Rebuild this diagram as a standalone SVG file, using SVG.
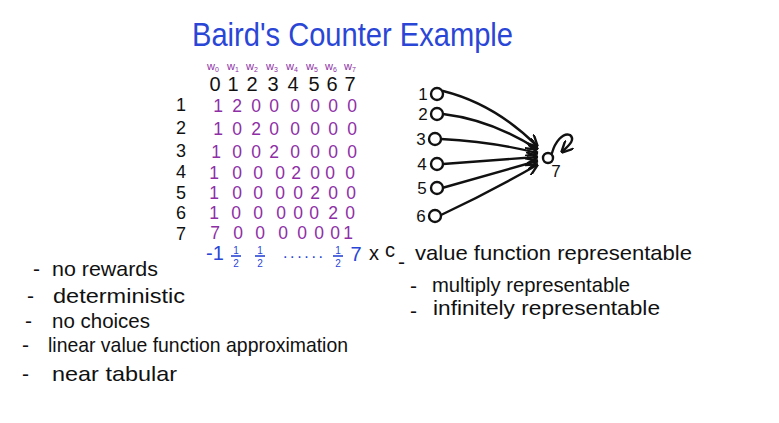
<svg xmlns="http://www.w3.org/2000/svg" width="779" height="423" viewBox="0 0 779 423">
<defs>
<style>
text{font-family:"Liberation Sans","DejaVu Sans",sans-serif;}
.blue{fill:#2a46d6;}
.purple{fill:#8e2fa6;}
.blk{fill:#111;}
.m{font-size:20px;text-anchor:middle;}
.p{font-size:17.5px;}
.rl{font-size:18px;}
.w{font-size:11px;text-anchor:middle;fill:#8e2fa6;}
.lst{font-size:21px;fill:#111;}
.nl{font-size:17px;fill:#111;text-anchor:middle;}
.node{fill:#fff;stroke:#111;stroke-width:2.4;}
.edge{fill:none;stroke:#111;stroke-width:2.4;stroke-linecap:round;}
.fr{stroke:#2a46d6;stroke-width:1.6;}
.fn{font-size:10px;text-anchor:middle;fill:#2a46d6;}
</style>
<marker id="ah" viewBox="0 0 10 10" refX="9" refY="5" markerWidth="5" markerHeight="5" orient="auto" markerUnits="strokeWidth">
<path d="M0,0 L10,5 L0,10" fill="none" stroke="#111" stroke-width="2"/>
</marker>
</defs>
<rect width="779" height="423" fill="#fff"/>

<text class="blue" x="192" y="46" font-size="34" textLength="321" lengthAdjust="spacingAndGlyphs">Baird's Counter Example</text>

<g id="weights">
<text class="w" x="213" y="70">w<tspan font-size="7" dy="2">0</tspan></text>
<text class="w" x="233" y="70">w<tspan font-size="7" dy="2">1</tspan></text>
<text class="w" x="252" y="70">w<tspan font-size="7" dy="2">2</tspan></text>
<text class="w" x="272" y="70">w<tspan font-size="7" dy="2">3</tspan></text>
<text class="w" x="292" y="70">w<tspan font-size="7" dy="2">4</tspan></text>
<text class="w" x="312" y="70">w<tspan font-size="7" dy="2">5</tspan></text>
<text class="w" x="331" y="70">w<tspan font-size="7" dy="2">6</tspan></text>
<text class="w" x="350" y="70">w<tspan font-size="7" dy="2">7</tspan></text>
</g>

<g id="matrix">
<g class="blk m">
<text x="215" y="91">0</text><text x="233" y="91">1</text><text x="252" y="91">2</text><text x="273" y="91">3</text>
<text x="293" y="91">4</text><text x="314" y="91">5</text><text x="332" y="91">6</text><text x="350" y="91">7</text>
</g>
<g class="blk m rl">
<text x="181" y="111">1</text><text x="181" y="134">2</text><text x="181" y="157">3</text><text x="181" y="178">4</text>
<text x="181" y="199">5</text><text x="181" y="219">6</text><text x="181" y="240">7</text>
</g>
<g class="purple m p">
<text x="218" y="112">1</text><text x="237" y="112">2</text><text x="256" y="112">0</text><text x="274" y="112">0</text><text x="295" y="112">0</text><text x="315" y="112">0</text><text x="333" y="112">0</text><text x="352" y="112">0</text>
<text x="218" y="135">1</text><text x="237" y="135">0</text><text x="256" y="135">2</text><text x="274" y="135">0</text><text x="295" y="135">0</text><text x="315" y="135">0</text><text x="333" y="135">0</text><text x="352" y="135">0</text>
<text x="216" y="158">1</text><text x="237" y="158">0</text><text x="256" y="158">0</text><text x="274" y="158">2</text><text x="295" y="158">0</text><text x="315" y="158">0</text><text x="333" y="158">0</text><text x="352" y="158">0</text>
<text x="214" y="179">1</text><text x="237" y="179">0</text><text x="258" y="179">0</text><text x="280" y="179">0</text><text x="296" y="179">2</text><text x="315" y="179">0</text><text x="330" y="179">0</text><text x="350" y="179">0</text>
<text x="214" y="199">1</text><text x="237" y="199">0</text><text x="258" y="199">0</text><text x="280" y="199">0</text><text x="298" y="199">0</text><text x="315" y="199">2</text><text x="333" y="199">0</text><text x="351" y="199">0</text>
<text x="214" y="219">1</text><text x="236" y="219">0</text><text x="258" y="219">0</text><text x="281" y="219">0</text><text x="298" y="219">0</text><text x="314" y="219">0</text><text x="333" y="219">2</text><text x="350" y="219">0</text>
<text x="215" y="239">7</text><text x="238" y="239">0</text><text x="260" y="239">0</text><text x="283" y="239">0</text><text x="302" y="239">0</text><text x="319" y="239">0</text><text x="335" y="239">0</text><text x="348" y="239">1</text>
</g>
<g id="result">
<text class="blue m" x="215" y="260" font-size="16">-1</text>
<text class="fn" x="236" y="254">1</text><line class="fr" x1="231" y1="256" x2="241" y2="256"/><text class="fn" x="236" y="267">2</text>
<text class="fn" x="260" y="254">1</text><line class="fr" x1="255" y1="256" x2="265" y2="256"/><text class="fn" x="260" y="267">2</text>
<text class="blue" x="283" y="258" font-size="16" textLength="40" lengthAdjust="spacing">......</text>
<text class="fn" x="338" y="254">1</text><line class="fr" x1="333" y1="256" x2="343" y2="256"/><text class="fn" x="338" y="267">2</text>
<text class="blue m" x="356" y="261">7</text>
<text class="blk m" x="374" y="260" font-size="18">x</text>
<text class="blk m" x="390" y="257" font-size="20">c</text>
</g>
</g>

<g id="connectors">
<path class="edge" marker-end="url(#ah)" d="M443,91 Q495,104 537,146"/>
<path class="edge" marker-end="url(#ah)" d="M443,114 Q492,120 537,149"/>
<path class="edge" marker-end="url(#ah)" d="M441,139 Q495,142 537,153"/>
<path class="edge" marker-end="url(#ah)" d="M443,164 Q495,160 537,157"/>
<path class="edge" marker-end="url(#ah)" d="M442,188 Q495,173 537,161"/>
<path class="edge" marker-end="url(#ah)" d="M441,215 Q490,192 537,165"/>
<path class="edge" marker-end="url(#ah)" d="M552,153 C555,142 563,132 570,135 C576,140 568,146 562,152"/>
</g>

<g id="node1"><circle class="node" cx="437" cy="94" r="6"/><text class="nl" x="423" y="100">1</text></g>
<g id="node2"><circle class="node" cx="437" cy="114" r="6"/><text class="nl" x="423" y="120">2</text></g>
<g id="node3"><circle class="node" cx="435" cy="139" r="6"/><text class="nl" x="421" y="145">3</text></g>
<g id="node4"><circle class="node" cx="437" cy="164" r="6"/><text class="nl" x="422" y="170">4</text></g>
<g id="node5"><circle class="node" cx="437" cy="188" r="6"/><text class="nl" x="422" y="194">5</text></g>
<g id="node6"><circle class="node" cx="435" cy="216" r="6"/><text class="nl" x="421" y="222">6</text></g>
<g id="node7"><circle class="node" cx="548" cy="158" r="5"/><text class="nl" x="556" y="177" font-size="13">7</text></g>

<g id="left-list">
<text class="lst" x="33" y="276">-</text><text class="lst" x="52" y="276" textLength="106" lengthAdjust="spacingAndGlyphs">no rewards</text>
<text class="lst" x="27" y="303">-</text><text class="lst" x="53" y="303" textLength="132" lengthAdjust="spacingAndGlyphs">deterministic</text>
<text class="lst" x="25" y="328">-</text><text class="lst" x="52" y="328" textLength="98" lengthAdjust="spacingAndGlyphs">no choices</text>
<text class="lst" x="22" y="352">-</text><text class="lst" x="48" y="352" textLength="300" lengthAdjust="spacingAndGlyphs">linear value function approximation</text>
<text class="lst" x="22" y="381">-</text><text class="lst" x="52" y="381" textLength="125" lengthAdjust="spacingAndGlyphs">near tabular</text>
</g>

<g id="right-list">
<text class="lst" x="398" y="269">-</text><text class="lst" x="415" y="260" textLength="277" lengthAdjust="spacingAndGlyphs">value function representable</text>
<text class="lst" x="410" y="293">-</text><text class="lst" x="432" y="292" textLength="198" lengthAdjust="spacingAndGlyphs">multiply representable</text>
<text class="lst" x="410" y="318">-</text><text class="lst" x="433" y="315" textLength="227" lengthAdjust="spacingAndGlyphs">infinitely representable</text>
</g>
</svg>
